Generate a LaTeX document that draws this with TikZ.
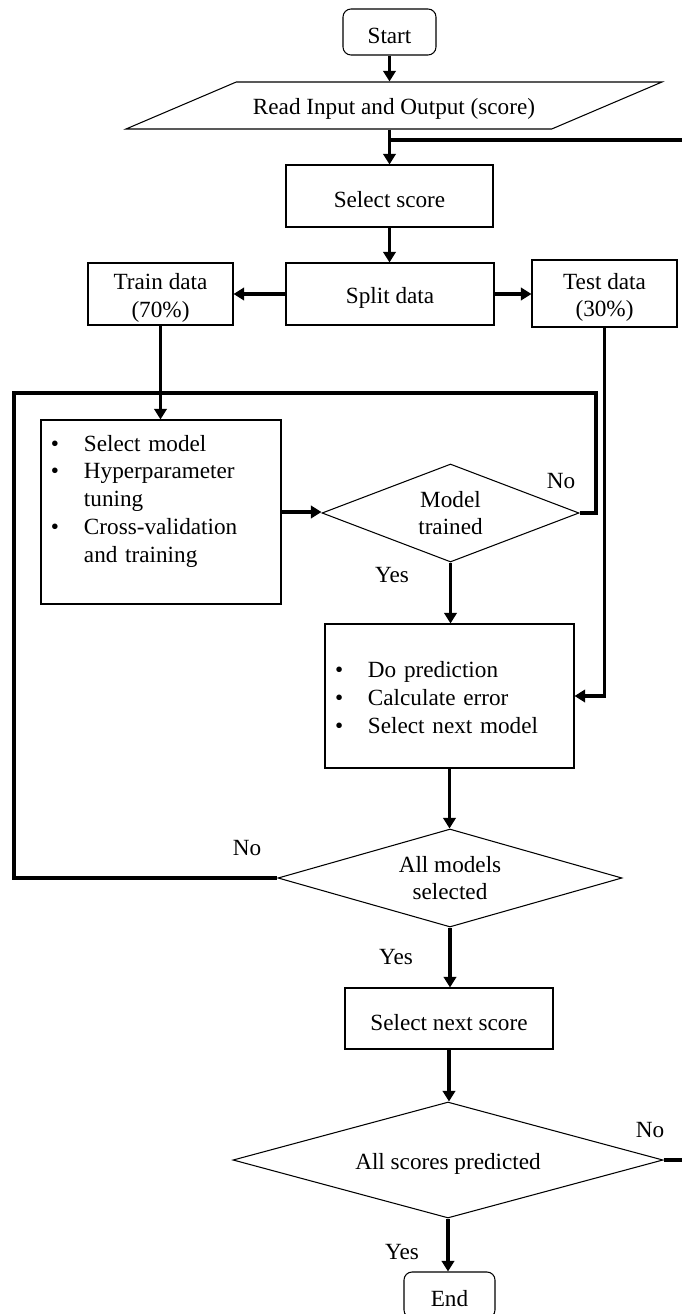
\documentclass[tikz,border=0pt]{standalone}
\usepackage{fontspec}
\setmainfont{Liberation Serif}
\usetikzlibrary{shapes.geometric,arrows.meta}

\newlength{\du}
\setlength{\du}{0.02cm}
\definecolor{dialinecolor}{rgb}{0.000000, 0.000000, 0.000000}
\newcommand{\lowstrut}{\rule{0pt}{13.5pt}}

\tikzset{
  every node/.style={font=\fontsize{13.2}{15.8}\selectfont, text=dialinecolor},
  lowtext/.style={execute at begin node={\lowstrut}},
  procbox/.style={draw=dialinecolor, line width=0.6pt, rectangle, inner sep=0pt, align=center, lowtext},
  termbox/.style={procbox, rounded corners=8\du},
  listbox/.style={draw=dialinecolor, line width=0.6pt, rectangle, inner xsep=10\du, inner ysep=0pt, align=left},
  decision/.style={draw=dialinecolor, line width=0.6pt, diamond, inner sep=0pt, align=center},
  iobox/.style={draw=dialinecolor, line width=0.6pt, trapezium, trapezium left angle=22.9,
    trapezium right angle=157.1, trapezium stretches body=true, inner xsep=0pt, inner ysep=5.1pt, lowtext},
  line/.style={draw=dialinecolor, line width=1.9pt},
  flow/.style={line, -{Triangle[length=6pt,width=7pt]}},
  lbl/.style={inner sep=0pt}
}

\begin{document}
\begin{tikzpicture}
\pgftransformxscale{1.000000}
\pgftransformyscale{-1.000000}
\useasboundingbox (0\du,0\du) rectangle (681\du,1314\du);
% main column
\node[termbox, minimum width=93\du, minimum height=46\du] (start) at (389.5\du,32\du) {Start};
\node[iobox, minimum width=536\du, minimum height=47\du] (read) at (394\du,105.5\du) {Read Input and Output (score)};
\node[procbox, minimum width=207\du, minimum height=62\du] (selscore) at (389.5\du,196\du) {Select score};
\node[procbox, minimum width=208\du, minimum height=62\du] (split) at (390\du,294\du) {Split data};
\node[procbox, minimum width=145\du, minimum height=62\du] (train) at (160.5\du,294\du) {\lowstrut Train data\\(70\%)};
\node[procbox, minimum width=145\du, minimum height=67\du] (test) at (604.5\du,293.5\du) {\lowstrut Test data\\(30\%)};
\node[listbox, text width=220\du, minimum height=184\du] (models) at (161\du,512\du) {%
\begin{tabular}{@{}p{33\du}@{}l@{}}
\textbullet & Select model\\
\textbullet & Hyperparameter\\
 & tuning\\
\textbullet & Cross-validation\\
 & and training\\[22\du]
\end{tabular}};
\node[decision, aspect=2.62, minimum width=257\du, minimum height=98\du] (trained) at (450.5\du,513\du) {Model\\trained};
\node[listbox, text width=229\du, minimum height=144\du] (predict) at (449.5\du,696\du) {%
\begin{tabular}{@{}p{33\du}@{}l@{}}
\noalign{\vspace{8\du}}
\textbullet & Do prediction\\
\textbullet & Calculate error\\
\textbullet & Select next model
\end{tabular}};
\node[decision, aspect=3.51, minimum width=344\du, minimum height=98\du] (allmodels) at (450\du,878\du) {All models\\selected};
\node[procbox, minimum width=208\du, minimum height=61\du] (nextscore) at (449\du,1018.5\du) {Select next score};
\node[decision, aspect=3.71, minimum width=430\du, minimum height=116\du, lowtext] (allscores) at (448\du,1160\du) {All scores predicted};
\node[termbox, minimum width=91\du, minimum height=46\du] (end) at (449.5\du,1295\du) {End};

% loop corners
\coordinate (lpL) at (14\du,393\du);
\coordinate (lpR) at (596\du,393\du);
\coordinate (jn) at (389.5\du,140\du);
\coordinate (rt) at (700\du,140\du);

\draw[flow] (start.south) -- (start.south |- read.north);
\draw[flow] (read.south -| selscore.north) -- (selscore.north);
\draw[flow] (selscore.south) -- (selscore.south |- split.north);
\draw[flow] (split.west) -- (split.west -| train.east);
\draw[flow] (split.east) -- (split.east -| test.west);
\draw[flow] (train.south) -- (train.south |- models.north);
\draw[flow] (models.east) -- (models.east -| trained.west);
\draw[line] (trained.east) -| (lpR) -- (lpL) |- (allmodels.west);
\draw[flow] (trained.south) -- (trained.south |- predict.north);
\draw[flow] (test.south) |- (predict.east);
\draw[flow] (predict.south) -- (predict.south |- allmodels.north);
\draw[flow] (allmodels.south) -- (allmodels.south |- nextscore.north);
\draw[flow] (nextscore.south) -- (nextscore.south |- allscores.north);
\draw[flow] (allscores.south) -- (allscores.south |- end.north);
\draw[line] (allscores.east) -| (rt) -- (jn);

% labels
\node[lbl] (no1) at (561\du,481\du) {No};
\node[lbl] (yes1) at (392\du,575\du) {Yes};
\node[lbl] (no2) at (247\du,848\du) {No};
\node[lbl] (yes2) at (396\du,957\du) {Yes};
\node[lbl] (no3) at (650\du,1130\du) {No};
\node[lbl] (yes3) at (402\du,1252\du) {Yes};
\end{tikzpicture}
\end{document}
